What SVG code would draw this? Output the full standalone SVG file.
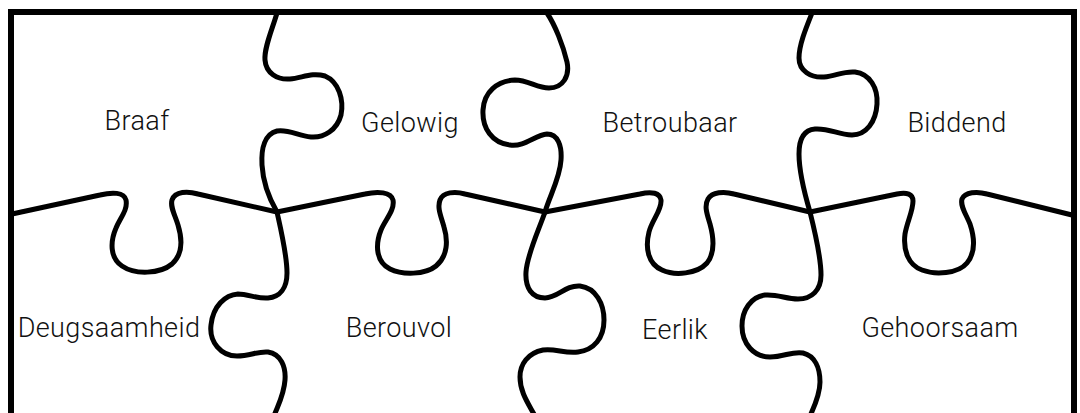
<svg xmlns="http://www.w3.org/2000/svg" width="1080" height="413" viewBox="0 0 1080 413">
<style>
.edge{fill:none;stroke:#000;stroke-width:5;stroke-linecap:round;stroke-linejoin:round}
.frame{fill:none;stroke:#000;stroke-width:6;stroke-linejoin:miter}
.lbl{font-family:Roboto,"Liberation Sans",Arial,sans-serif;font-weight:300;font-size:27px;letter-spacing:0.4px;fill:#111;text-anchor:middle}
</style>
<rect width="1080" height="413" fill="#fff"/>
<path class="frame" d="M11,430 V12 H1074 V430"/>
<g id="connectors">
<path class="edge" d="M277,13 C272,30 264,48 265,60 C266,73 277,80 290,79 C302,78 312,72 325,76 C339,82 344,100 341,115 C337,130 324,138 311,137 C298,136 289,129 277,131 C265,134 261,148 262,165 C263,182 270,200 277,212"/>
<path class="edge" d="M277,212 C281,230 287,255 287,273 C287,288 280,297 268,298 C258,299 248,294 238,294 C225,295 213,306 211,325 C209,342 221,356 237,356 C250,356 258,351 268,352 C281,354 286,367 285,380 C284,395 278,405 274,416"/>
<path class="edge" d="M547,13 C555,25 563,45 567,62 C570,76 563,88 549,88 C537,88 528,80 515,80 C497,81 484,92 483,110 C482,128 492,143 510,145 C525,147 535,135 547,134 C558,134 562,146 561,160 C560,178 550,195 545,212"/>
<path class="edge" d="M545,212 C538,232 527,255 526,272 C525,288 532,298 545,298 C558,298 565,285 580,286 C596,288 604,304 604,320 C604,338 594,350 578,352 C565,354 555,348 543,350 C528,353 520,364 520,377 C520,392 528,403 535,416"/>
<path class="edge" d="M812,13 C806,28 799,45 799,58 C799,71 811,78 824,77 C836,76 843,71 855,72 C870,74 878,88 877,104 C876,122 866,135 852,135 C838,135 830,128 815,129 C803,130 799,140 799,154 C799,172 805,195 810,212"/>
<path class="edge" d="M810,212 C815,232 821,258 821,275 C821,290 812,299 798,299 C786,299 778,294 765,295 C751,297 742,310 742,326 C742,344 754,357 770,357 C784,357 792,351 803,353 C815,356 820,368 820,382 C820,395 814,407 810,416"/>
<path class="edge" d="M12,214 L100,195 C112,192 124,192 126,200 C128,210 120,218 116,228 C110,242 110,258 122,266 C135,275 160,274 172,264 C183,254 182,238 178,225 C175,215 170,207 172,200 C175,191 188,191 198,194 L277,212"/>
<path class="edge" d="M277,212 L365,194 C378,191 391,192 393,200 C395,210 385,220 381,230 C375,245 376,262 390,269 C402,275 425,275 436,266 C448,256 448,240 444,227 C441,216 437,208 440,200 C443,192 455,191 465,194 L545,212"/>
<path class="edge" d="M545,212 L640,194 C652,191 660,193 661,200 C662,210 652,220 649,232 C645,248 648,264 662,270 C675,276 697,274 707,263 C716,252 713,235 710,224 C707,214 704,206 708,199 C712,192 724,191 734,194 L810,212"/>
<path class="edge" d="M810,212 L897,194 C907,192 913,194 913,201 C913,211 907,222 905,234 C903,250 908,265 922,270 C935,275 958,274 967,263 C976,252 974,236 970,224 C966,214 960,206 962,199 C965,192 977,191 987,194 L1072,215"/>
</g>
<g id="n-braaf"><text class="lbl" x="137" y="130">Braaf</text></g>
<g id="n-gelowig"><text class="lbl" x="410" y="132">Gelowig</text></g>
<g id="n-betroubaar"><text class="lbl" x="670" y="132">Betroubaar</text></g>
<g id="n-biddend"><text class="lbl" x="957" y="132">Biddend</text></g>
<g id="n-deugsaamheid"><text class="lbl" x="109" y="337">Deugsaamheid</text></g>
<g id="n-berouvol"><text class="lbl" x="399" y="337">Berouvol</text></g>
<g id="n-eerlik"><text class="lbl" x="675" y="339">Eerlik</text></g>
<g id="n-gehoorsaam"><text class="lbl" x="940" y="337">Gehoorsaam</text></g>
</svg>
